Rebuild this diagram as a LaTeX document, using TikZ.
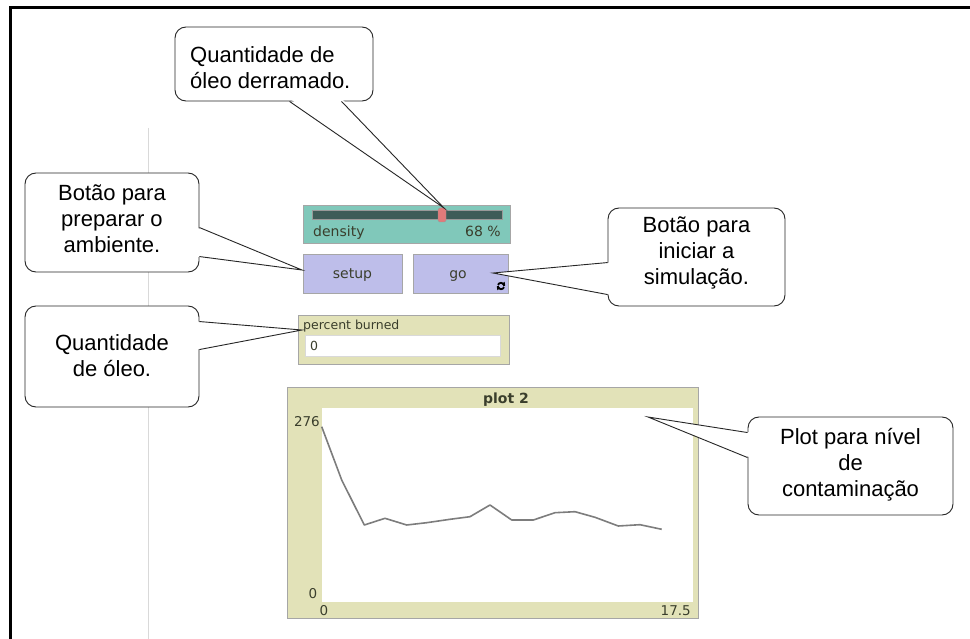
\documentclass[tikz,border=0pt]{standalone}
\usepackage{fontspec}
\setmainfont{Liberation Sans}
\newfontfamily\nlfont{DejaVu Sans}
\usetikzlibrary{calc,arrows.meta}
\definecolor{slteal}{RGB}{128,200,186}
\definecolor{sltrack}{RGB}{62,92,88}
\definecolor{slhandle}{RGB}{226,122,122}
\definecolor{btnlav}{RGB}{190,190,234}
\definecolor{monbeige}{RGB}{226,226,184}
\definecolor{wtxt}{RGB}{58,62,44}
\definecolor{plotline}{RGB}{125,125,125}
\begin{document}
\begin{tikzpicture}[x=1pt,y=-1pt,
  callout/.style={draw=black!85, fill=white, rounded corners=11pt, line width=0.9pt, inner sep=0pt},
  ctext/.style={font=\fontsize{22}{26}\selectfont, align=center, inner sep=0pt},
  wedge/.style={draw=black!85, line width=0.9pt},
  wbox/.style={draw=black!35, line width=0.8pt, inner sep=0pt},
  wtext/.style={font=\nlfont\fontsize{14}{16}\selectfont, text=wtxt, inner sep=0pt},
  stext/.style={font=\nlfont\fontsize{12.5}{14}\selectfont, text=wtxt, inner sep=0pt},
  atext/.style={font=\nlfont\fontsize{13.5}{15}\selectfont, text=wtxt, inner sep=0pt}
  ]
\useasboundingbox (0,0) rectangle (970,639);
\fill[white] (0,0) rectangle (970,639);
% frame
\draw[line width=3pt] (970,8) -- (10.5,8) -- (10.5,639);
\draw[black!15, line width=1pt] (148,128) -- (148,639);

% ---------- NetLogo widgets ----------
% slider
\node[wbox, fill=slteal, minimum width=207pt, minimum height=38pt] (slider) at (406.5,224) {};
\node[draw=black!40, fill=sltrack, minimum width=190pt, minimum height=9pt, inner sep=0pt] (track) at (407,214.5) {};
\node[draw=black!40, fill=slhandle, rounded corners=1.5pt, minimum width=8pt, minimum height=14pt, inner sep=0pt] (handle) at (442,215) {};
\node[wtext, anchor=base west] (dlabel) at (313,237) {density};
\node[wtext, anchor=base east] (dval) at (501,237) {68 \%};
% buttons
\node[wbox, fill=btnlav, minimum width=99pt, minimum height=39pt] (setup) at (352.5,273.5) {};
\node[wtext, anchor=base] (setuplbl) at (352.5,278.5) {setup};
\node[wbox, fill=btnlav, minimum width=95pt, minimum height=39pt] (go) at (460.5,273.5) {};
\node[wtext, anchor=base] (golbl) at (458,278.5) {go};
\coordinate (goicon) at (501,286);
\draw[line width=1.8pt] ($(goicon)+(-3.2,0)$) arc (180:20:3.2);
\draw[line width=1.8pt] ($(goicon)+(3.2,0)$) arc (0:-160:3.2);
\fill ($(goicon)+(4.2,-0.3)$) -- ++(-3.4,-1.4) -- ++(2.8,-2.6) -- cycle;
\fill ($(goicon)+(-4.2,0.3)$) -- ++(3.4,1.4) -- ++(-2.8,2.6) -- cycle;
% monitor
\node[wbox, fill=monbeige, minimum width=211pt, minimum height=49pt] (monitor) at (403.5,339.5) {};
\node[stext, anchor=base west] (monlbl) at (303,330) {percent burned};
\node[draw=black!15, fill=white, minimum width=195pt, minimum height=21pt, inner sep=0pt] (monfield) at (402.5,346) {};
\node[stext, anchor=base west] (monval) at (310,351) {0};
% plot
\node[wbox, fill=monbeige, minimum width=411pt, minimum height=231pt] (plot) at (492.5,502.5) {};
\node[fill=white, minimum width=371pt, minimum height=194pt, inner sep=0pt] (plotarea) at (507.5,505) {};
\node[atext, font=\nlfont\bfseries\fontsize{14}{16}\selectfont, anchor=base] (plottitle) at (506,403) {plot 2};
\node[atext, anchor=base east] (ymax) at (320,426) {276};
\node[atext, anchor=base] (ymin) at (313,598) {0};
\node[atext, anchor=base] (xmin) at (324,615) {0};
\node[atext, anchor=base east] (xmax) at (691,615) {17.5};
\draw[plotline, line width=1.6pt, line join=round]
  (321.7,426.7) -- (341.7,480) -- (364.3,525) -- (385,518.3) -- (406.7,525)
  -- (426.7,522.7) -- (450,519.3) -- (470,516.7) -- (490,505) -- (511.7,520)
  -- (533.3,520) -- (555,512.7) -- (575,511.7) -- (595,517.3) -- (618.3,526)
  -- (640,524.7) -- (661.7,529.3);

% ---------- callouts ----------
% 1: oil spilled
\node[callout, minimum width=198pt, minimum height=74pt] (c1) at (274,64) {};
\node[ctext, align=left, anchor=west] (c1t) at (190,67.5) {Quantidade de\\óleo derramado.};
\coordinate (t1) at (444,208);
\fill[white] ($(c1.south west)+(115,-3)$) -- (t1) -- ($(c1.south west)+(167,-3)$) -- cycle;
\draw[wedge] ($(c1.south west)+(115,0)$) -- (t1) -- ($(c1.south west)+(167,0)$);

% 2: setup
\node[callout, minimum width=174pt, minimum height=99pt] (c2) at (112,222.5) {};
\node[ctext] (c2t) at (112,219) {Botão para\\preparar o\\ambiente.};
\coordinate (t2) at (302,270);
\fill[white] ($(c2.north east)+(-3,55)$) -- (t2) -- ($(c2.north east)+(-3,84)$) -- cycle;
\draw[wedge] ($(c2.north east)+(0,55)$) -- (t2) -- ($(c2.north east)+(0,84)$);

% 3: oil quantity
\node[callout, minimum width=174pt, minimum height=101pt] (c3) at (112,356.5) {};
\node[ctext] (c3t) at (112,356) {Quantidade\\de óleo.};
\coordinate (t3) at (302,330);
\fill[white] ($(c3.north east)+(-3,16)$) -- (t3) -- ($(c3.north east)+(-3,44)$) -- cycle;
\draw[wedge] ($(c3.north east)+(0,16)$) -- (t3) -- ($(c3.north east)+(0,44)$);

% 4: go
\node[callout, minimum width=177pt, minimum height=98pt] (c4) at (696.5,257) {};
\node[ctext] (c4t) at (696.5,253) {Botão para\\iniciar a\\simulação.};
\coordinate (t4) at (493,273);
\fill[white] ($(c4.north west)+(3,55)$) -- (t4) -- ($(c4.north west)+(3,87)$) -- cycle;
\draw[wedge] ($(c4.north west)+(0,55)$) -- (t4) -- ($(c4.north west)+(0,87)$);

% 5: plot
\node[callout, minimum width=205pt, minimum height=98pt] (c5) at (850.5,466) {};
\node[ctext] (c5t) at (850.5,465) {Plot para nível\\de\\contaminação};
\coordinate (t5) at (648,417);
\fill[white] ($(c5.north west)+(3,16)$) -- (t5) -- ($(c5.north west)+(3,41)$) -- cycle;
\draw[wedge] ($(c5.north west)+(0,16)$) -- (t5) -- ($(c5.north west)+(0,41)$);
\end{tikzpicture}
\end{document}
